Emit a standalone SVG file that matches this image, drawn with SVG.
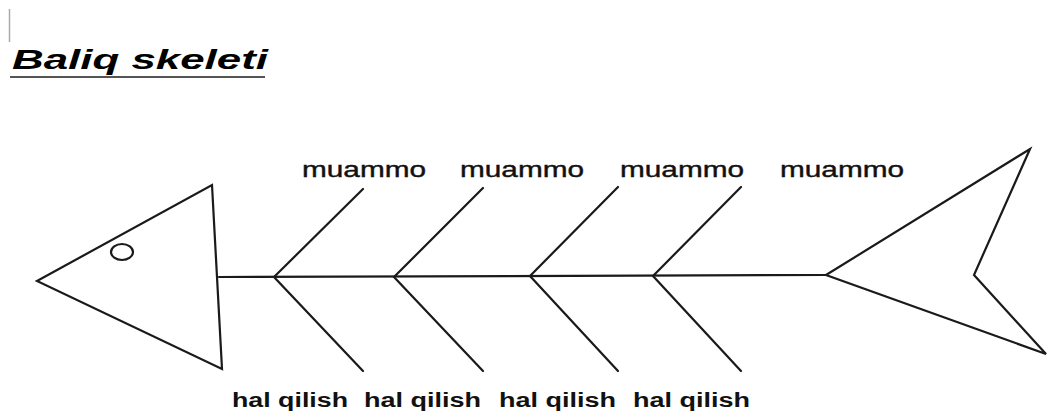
<svg xmlns="http://www.w3.org/2000/svg" width="1047" height="414" viewBox="0 0 1047 414">
<style>
.ln{fill:none;stroke:#1a1a1a;stroke-width:2.2;stroke-linejoin:miter;stroke-linecap:round}
.lbl{font-family:"Liberation Sans",Arial,sans-serif;font-size:22px;fill:#111;stroke:#111;stroke-width:0.4}
.sol{font-family:"Liberation Sans",Arial,sans-serif;font-size:20px;font-weight:bold;fill:#111}
.title{font-family:"Liberation Sans",Arial,sans-serif;font-size:28px;font-weight:bold;font-style:italic;fill:#000}
</style>
<rect width="1047" height="414" fill="#fff"/>
<line x1="9.5" y1="9" x2="9.5" y2="42" stroke="#aaa" stroke-width="1.5"/>
<g id="title">
<text class="title" x="12" y="69" textLength="256" lengthAdjust="spacingAndGlyphs">Baliq skeleti</text>
<line x1="10" y1="77" x2="265" y2="77" stroke="#555" stroke-width="2"/>
</g>
<g id="head">
<polygon class="ln" points="37,281 212,185 222,369"/>
<ellipse class="ln" cx="122" cy="252" rx="11" ry="8"/>
</g>
<g id="tail">
<polygon class="ln" points="826,275 1030,149 974,275 1046,354"/>
</g>
<g id="connectors">
<line class="ln" x1="219" y1="277" x2="826" y2="275"/>
<polyline class="ln" points="363,189 274,277 363,371"/>
<polyline class="ln" points="483,188 394,277 483,371"/>
<polyline class="ln" points="618,187 530,276 618,371"/>
<polyline class="ln" points="741,187 653,276 741,371"/>
</g>
<g id="labels-top">
<text class="lbl" x="302" y="177" textLength="124" lengthAdjust="spacingAndGlyphs">muammo</text>
<text class="lbl" x="460" y="177" textLength="124" lengthAdjust="spacingAndGlyphs">muammo</text>
<text class="lbl" x="620" y="177" textLength="124" lengthAdjust="spacingAndGlyphs">muammo</text>
<text class="lbl" x="780" y="177" textLength="124" lengthAdjust="spacingAndGlyphs">muammo</text>
</g>
<g id="labels-bottom">
<text class="sol" x="232" y="407" textLength="116" lengthAdjust="spacingAndGlyphs">hal qilish</text>
<text class="sol" x="364" y="407" textLength="117" lengthAdjust="spacingAndGlyphs">hal qilish</text>
<text class="sol" x="499" y="407" textLength="117" lengthAdjust="spacingAndGlyphs">hal qilish</text>
<text class="sol" x="633" y="407" textLength="117" lengthAdjust="spacingAndGlyphs">hal qilish</text>
</g>
</svg>
